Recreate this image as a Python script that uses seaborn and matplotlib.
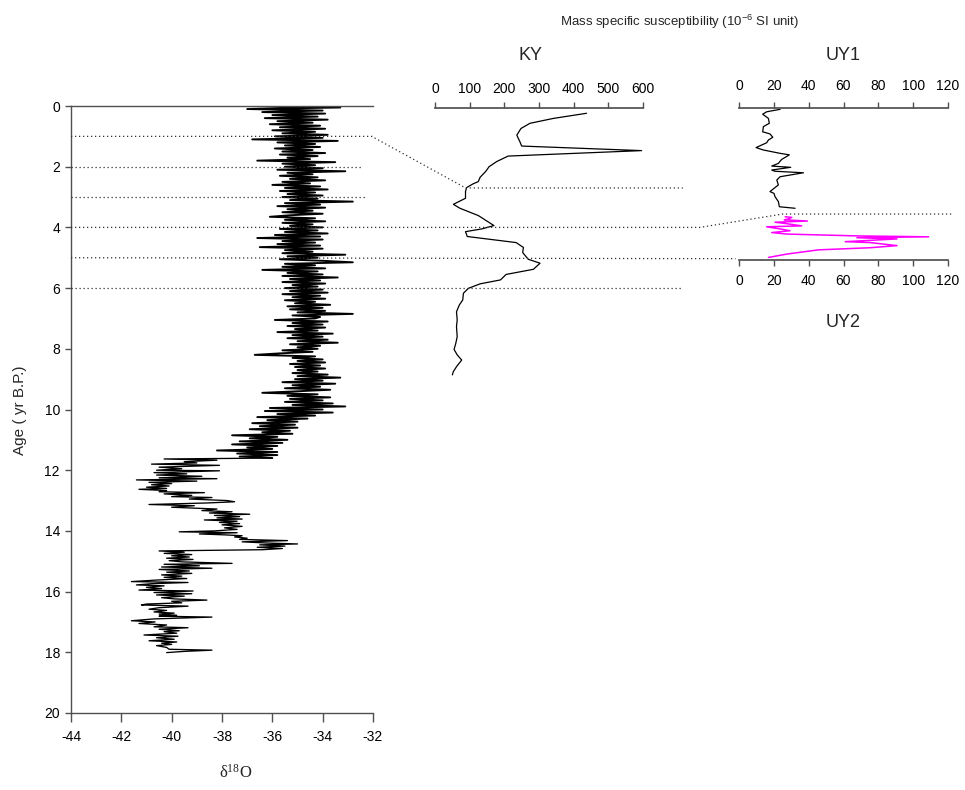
import numpy as np
import pandas as pd
import matplotlib
matplotlib.use("Agg")
import matplotlib.pyplot as plt
from matplotlib.lines import Line2D
import seaborn as sns

# ---------------- data ----------------
# d18O record, Holocene part: one value every 0.05 kyr from 0.00 to 11.60
d18o_holo_step = 0.05
d18o_holo_val = [
    -37.2, -33.3, -37.0, -34.0, -36.4, -33.9, -36.0, -34.2, -36.3, -33.8, -35.8, -34.4, -36.1, -34.1, -35.7, -33.9, -36.0, -34.3, -35.6, -33.8,
    -35.9, -34.0, -36.8, -33.4, -35.8, -34.3, -35.5, -34.1, -35.9, -34.4, -35.6, -33.9, -35.7, -34.2, -35.4, -34.5, -36.6, -33.5, -35.6, -34.3,
    -35.5, -34.0, -35.8, -33.1, -35.4, -34.4, -35.7, -34.2, -35.3, -33.9, -35.6, -34.5, -36.0, -34.1, -35.5, -33.8, -35.7, -34.3, -35.4, -34.0,
    -35.6, -34.2, -35.3, -32.8, -35.5, -34.1, -35.8, -33.9, -35.4, -34.4, -35.6, -34.0, -35.3, -36.1, -34.3, -35.5, -33.9, -35.6, -34.4, -35.3,
    -34.0, -35.7, -34.2, -35.5, -33.8, -35.9, -34.1, -36.6, -34.0, -35.6, -34.3, -35.8, -34.1, -36.5, -34.0, -35.5, -34.4, -35.6, -33.1, -35.4,
    -34.2, -35.7, -34.0, -32.8, -35.5, -34.3, -35.6, -33.9, -36.4, -34.2, -35.4, -34.0, -35.6, -33.4, -35.3, -34.1, -35.6, -33.9, -35.2, -34.2,
    -35.5, -34.0, -35.3, -33.8, -35.6, -34.1, -35.2, -33.9, -35.5, -34.3, -35.1, -33.7, -35.4, -34.0, -35.3, -33.9, -35.0, -32.8, -35.2, -34.1,
    -34.3, -35.9, -33.8, -35.2, -34.0, -35.4, -33.9, -35.1, -34.2, -35.8, -33.6, -35.2, -34.0, -35.4, -33.8, -35.0, -33.4, -35.3, -34.1, -35.0,
    -34.2, -35.6, -34.4, -35.7, -36.7, -34.3, -35.2, -34.0, -35.0, -33.9, -35.3, -34.1, -35.1, -33.9, -35.0, -34.2, -35.2, -33.8, -35.0, -33.3,
    -35.1, -34.0, -35.6, -33.5, -35.2, -34.1, -35.5, -33.7, -35.0, -36.4, -34.2, -35.4, -33.7, -35.3, -34.0, -35.5, -33.6, -35.2, -33.1, -36.1,
    -34.0, -36.3, -33.6, -35.8, -34.3, -36.6, -34.6, -36.2, -35.0, -36.8, -35.1, -36.5, -35.0, -36.9, -35.3, -36.4, -35.2, -37.6, -35.8, -36.9,
    -35.4, -37.3, -35.6, -37.6, -35.8, -37.0, -36.0, -38.2, -35.8, -37.4, -35.8, -37.3, -36.0,
]
# d18O record, glacial part (age kyr, value)
d18o_glac_age = [
    11.63, 11.67, 11.72, 11.76, 11.80, 11.84, 11.90, 11.95, 12.00, 12.02,
    12.08, 12.12, 12.16, 12.20, 12.25, 12.28, 12.32, 12.36, 12.40, 12.44,
    12.48, 12.52, 12.56, 12.60, 12.63, 12.67, 12.71, 12.74, 12.78, 12.83,
    12.87, 12.90, 12.95, 13.00, 13.04, 13.08, 13.13, 13.17, 13.22, 13.28,
    13.33, 13.37, 13.41, 13.45, 13.49, 13.53, 13.57, 13.61, 13.64, 13.68,
    13.72, 13.76, 13.80, 13.85, 13.90, 13.95, 14.00, 14.03, 14.06, 14.10,
    14.13, 14.16, 14.20, 14.24, 14.28, 14.32, 14.36, 14.40, 14.43, 14.46,
    14.50, 14.54, 14.58, 14.62, 14.66, 14.70, 14.74, 14.78, 14.82, 14.86,
    14.90, 14.94, 14.98, 15.02, 15.07, 15.10, 15.15, 15.19, 15.23, 15.27,
    15.32, 15.36, 15.40, 15.45, 15.49, 15.53, 15.57, 15.62, 15.67, 15.70,
    15.74, 15.78, 15.81, 15.86, 15.90, 15.95, 15.98, 16.03, 16.07, 16.11,
    16.15, 16.20, 16.24, 16.28, 16.32, 16.37, 16.41, 16.44, 16.48, 16.53,
    16.58, 16.62, 16.67, 16.71, 16.74, 16.78, 16.81, 16.84, 16.90, 16.96,
    17.00, 17.05, 17.10, 17.16, 17.19, 17.24, 17.29, 17.32, 17.37, 17.43,
    17.47, 17.52, 17.57, 17.62, 17.66, 17.70, 17.74, 17.78, 17.84, 17.90,
    17.93, 17.97, 18.01,
]
d18o_glac_val = [
    -40.3, -38.2, -39.5, -39.0, -40.8, -38.1, -40.5, -39.6, -40.6, -38.1,
    -40.7, -39.4, -40.6, -38.8, -40.5, -38.2, -41.4, -39.0, -40.9, -40.0,
    -40.8, -40.1, -41.0, -40.2, -41.3, -40.2, -40.5, -38.7, -40.3, -39.2,
    -40.0, -38.4, -39.3, -37.8, -37.5, -38.6, -40.9, -39.1, -40.0, -38.2,
    -38.8, -37.6, -38.5, -36.9, -38.3, -37.3, -38.2, -37.2, -38.7, -37.4,
    -38.1, -37.3, -38.0, -37.2, -37.9, -37.4, -38.3, -39.7, -37.4, -38.9,
    -37.9, -37.2, -37.5, -37.0, -37.3, -35.4, -37.2, -36.2, -35.0, -36.5,
    -35.5, -36.6, -35.6, -36.4, -40.5, -39.5, -40.3, -39.2, -40.0, -39.3,
    -40.2, -39.15, -40.1, -39.6, -37.6, -40.3, -38.9, -40.4, -38.4, -40.5,
    -39.3, -40.2, -39.2, -40.4, -39.6, -40.3, -39.4, -40.6, -41.6, -39.35,
    -40.8, -41.4, -40.3, -41.0, -40.4, -41.3, -39.15, -40.7, -39.2, -40.6,
    -39.5, -40.4, -39.9, -38.6, -40.0, -39.6, -41.0, -41.2, -39.35, -40.5,
    -40.9, -40.2, -40.7, -39.9, -40.5, -39.8, -40.5, -38.4, -40.7, -41.6,
    -40.66, -41.3, -40.2, -40.7, -39.35, -40.5, -39.7, -40.3, -39.8, -41.1,
    -39.75, -40.6, -39.9, -40.9, -39.8, -40.4, -40.0, -40.6, -40.2, -40.1,
    -38.4, -39.5, -40.2,
]

# KY mass specific susceptibility
ky_age = [0.24, 0.41, 0.57, 0.74, 0.96, 1.18, 1.32, 1.47, 1.65, 1.83,
          2.00, 2.16, 2.35, 2.49, 2.57, 2.69, 2.82, 3.04, 3.24, 3.37,
          3.61, 3.94, 4.05, 4.14, 4.30, 4.50, 4.66, 4.83, 5.05, 5.18,
          5.38, 5.55, 5.73, 5.86, 6.01, 6.17, 6.39, 6.56, 6.78, 7.05,
          7.27, 7.60, 7.82, 8.02, 8.20, 8.37, 8.59, 8.75, 8.86]
ky_val = [437, 341, 274, 248, 236, 245, 250, 596, 211, 178,
          156, 146, 130, 125, 109, 91, 88, 88, 53, 72,
          125, 170, 135, 88, 93, 234, 255, 253, 269, 303,
          284, 205, 189, 130, 96, 82, 80, 70, 62, 64,
          62, 64, 60, 55, 64, 77, 62, 53, 50]

# UY1 / UY2 (vertical position on the common depth panel)
uy1_pos = [0.11, 0.19, 0.27, 0.41, 0.57, 0.68, 0.85, 0.92, 1.03, 1.12,
           1.21, 1.37, 1.45, 1.56, 1.61, 1.76, 1.89, 1.98, 2.02, 2.11,
           2.15, 2.20, 2.33, 2.44, 2.60, 2.82, 2.88, 2.99, 3.15, 3.32, 3.37]
uy1_val = [23.6, 15.9, 13.6, 16.9, 17.4, 14.0, 13.6, 17.8, 19.4, 16.9,
           15.9, 9.8, 14.0, 23.6, 28.9, 24.5, 22.6, 18.8, 29.7, 18.8,
           20.6, 37.0, 23.6, 21.7, 22.6, 17.8, 20.1, 20.7, 22.6, 23.2, 32.2]
uy2_pos = [3.65, 3.67, 3.72, 3.75, 3.79, 3.83, 3.87, 3.95, 3.98, 4.05, 4.11, 4.17,
           4.22, 4.28, 4.31, 4.34, 4.38, 4.47, 4.50, 4.60, 4.67, 4.74, 4.88, 4.99]
uy2_val = [26.5, 30.3, 28.4, 26.0, 39.3, 20.7, 26.5, 36.0, 15.9, 23.6, 29.3, 18.8,
           27.4, 67.7, 108.9, 67.7, 90.7, 61.0, 75.3, 90.7, 75.3, 45.6, 27.4, 16.9]

main_xticks = [-44, -42, -40, -38, -36, -34, -32]
main_yticks = [0, 2, 4, 6, 8, 10, 12, 14, 16, 18, 20]
ky_ticks = [0, 100, 200, 300, 400, 500, 600]
uy_ticks = [0, 20, 40, 60, 80, 100, 120]

# tie lines (panel, x, y) vertices
tie_lines = [
    [("main", -44, 1), ("main", -32.05, 1), ("ky", 88, 2.7), ("ky", 715, 2.7)],
    [("main", -44, 2), ("main", -32.45, 2)],
    [("main", -44, 3), ("main", -32.25, 3)],
    [("main", -44, 4), ("ky", 764, 4), ("uy", 25, 3.56), ("uy", 123, 3.56)],
    [("main", -44, 5), ("uy", -2, 5.03)],
    [("main", -44, 6), ("ky", 715, 6)],
]

# ---------------- figure ----------------
sns.set_theme(style="ticks")
plt.rcParams["font.family"] = ["Liberation Sans", "DejaVu Sans"]
plt.rcParams["axes.unicode_minus"] = False

W, H = 965, 790
fig = plt.figure(figsize=(W / 100, H / 100), dpi=100)


def box(x0, x1, y0, y1):
    return [x0 / W, 1 - y1 / H, (x1 - x0) / W, (y1 - y0) / H]


def px(x, y):
    return x / W, 1 - y / H


ax = fig.add_axes(box(71, 373, 106, 713))
ax_ky = fig.add_axes(box(435, 643, 106, 713))
ax_uy = fig.add_axes(box(739, 948, 106, 713))

spine_col = "#505050"

holo_age = np.round(np.arange(len(d18o_holo_val)) * d18o_holo_step, 2).tolist()
df_holo = pd.DataFrame({"age": holo_age, "d18o": d18o_holo_val})
df_glac = pd.DataFrame({"age": holo_age[-1:] + d18o_glac_age,
                        "d18o": d18o_holo_val[-1:] + d18o_glac_val})
sns.lineplot(data=df_holo, x="d18o", y="age", sort=False, estimator=None, ax=ax,
             color="black", linewidth=1.35)
sns.lineplot(data=df_glac, x="d18o", y="age", sort=False, estimator=None, ax=ax,
             color="black", linewidth=0.95)

sns.lineplot(x=ky_val, y=ky_age, sort=False, estimator=None, ax=ax_ky,
             color="black", linewidth=0.9)
sns.lineplot(x=uy1_val, y=uy1_pos, sort=False, estimator=None, ax=ax_uy,
             color="black", linewidth=0.9)
sns.lineplot(x=uy2_val, y=uy2_pos, sort=False, estimator=None, ax=ax_uy,
             color="#ff00ff", linewidth=1.1)

# main axes
ax.set_xlim(-44, -32)
ax.set_ylim(20, 0)
ax.set_xticks(main_xticks)
ax.set_yticks(main_yticks)
ax.set_xlabel("")
ax.set_ylabel("")
ax.spines["right"].set_visible(False)
for s in ["left", "bottom", "top"]:
    ax.spines[s].set_color(spine_col)
    ax.spines[s].set_linewidth(1.0)
ax.tick_params(axis="x", direction="out", length=6.5, width=1.0, pad=6,
               labelsize=10, color=spine_col, labelcolor="black")
ax.tick_params(axis="y", direction="out", length=4, width=1.0, pad=4,
               labelsize=10, color=spine_col, labelcolor="black")

# KY axes
ax_ky.set_facecolor("none")
ax_ky.set_xlim(0, 600)
ax_ky.set_ylim(20, 0)
ax_ky.set_xlabel("")
ax_ky.set_ylabel("")
ax_ky.set_yticks([])
ax_ky.set_xticks(ky_ticks)
for s in ["left", "right", "bottom"]:
    ax_ky.spines[s].set_visible(False)
ax_ky.spines["top"].set_position(("data", 0.05))
ax_ky.spines["top"].set_color(spine_col)
ax_ky.xaxis.tick_top()
ax_ky.tick_params(axis="x", direction="out", length=4.5, width=1.0, pad=4,
                  labelsize=10, color=spine_col, labelcolor="black")

# UY axes
ax_uy.set_facecolor("none")
ax_uy.set_xlim(0, 120)
ax_uy.set_ylim(20, 0)
ax_uy.set_xlabel("")
ax_uy.set_ylabel("")
ax_uy.set_yticks([])
ax_uy.set_xticks(uy_ticks)
for s in ["left", "right"]:
    ax_uy.spines[s].set_visible(False)
ax_uy.spines["top"].set_position(("data", 0.05))
ax_uy.spines["bottom"].set_position(("data", 5.07))
for s in ["top", "bottom"]:
    ax_uy.spines[s].set_color(spine_col)
ax_uy.tick_params(axis="x", which="both", top=True, labeltop=True, bottom=True,
                  labelbottom=True, direction="out", length=4.5, width=1.0, pad=4,
                  labelsize=10, color=spine_col, labelcolor="black")
ax_uy.tick_params(axis="x", which="both", labelbottom=True, pad=6)

# tie lines
panels = {"main": ax, "ky": ax_ky, "uy": ax_uy}
inv = fig.transFigure.inverted()
for line in tie_lines:
    pts = [inv.transform(panels[p].transData.transform((x, y))) for p, x, y in line]
    xs = [p[0] for p in pts]
    ys = [p[1] for p in pts]
    fig.add_artist(Line2D(xs, ys, transform=fig.transFigure, color="#303030",
                          linewidth=0.9, linestyle=(0, (1.0, 2.2)), zorder=5))

# texts
fig.text(*px(680, 22), r"Mass specific susceptibility (10$\mathregular{^{-6}}$ SI unit)",
         ha="center", va="center", fontsize=9.5)
fig.text(*px(530, 56), "KY", ha="center", va="center", fontsize=13)
fig.text(*px(843, 56), "UY1", ha="center", va="center", fontsize=13)
fig.text(*px(843, 323), "UY2", ha="center", va="center", fontsize=13)
fig.text(*px(20, 410), "Age ( yr B.P.)", ha="center", va="center", rotation=90, fontsize=11)
fig.text(*px(236, 773), r"δ$\mathregular{^{18}}$O", ha="center", va="center",
         fontsize=12, family=["Liberation Serif", "DejaVu Serif"])

fig.savefig("out.png", dpi=100)
